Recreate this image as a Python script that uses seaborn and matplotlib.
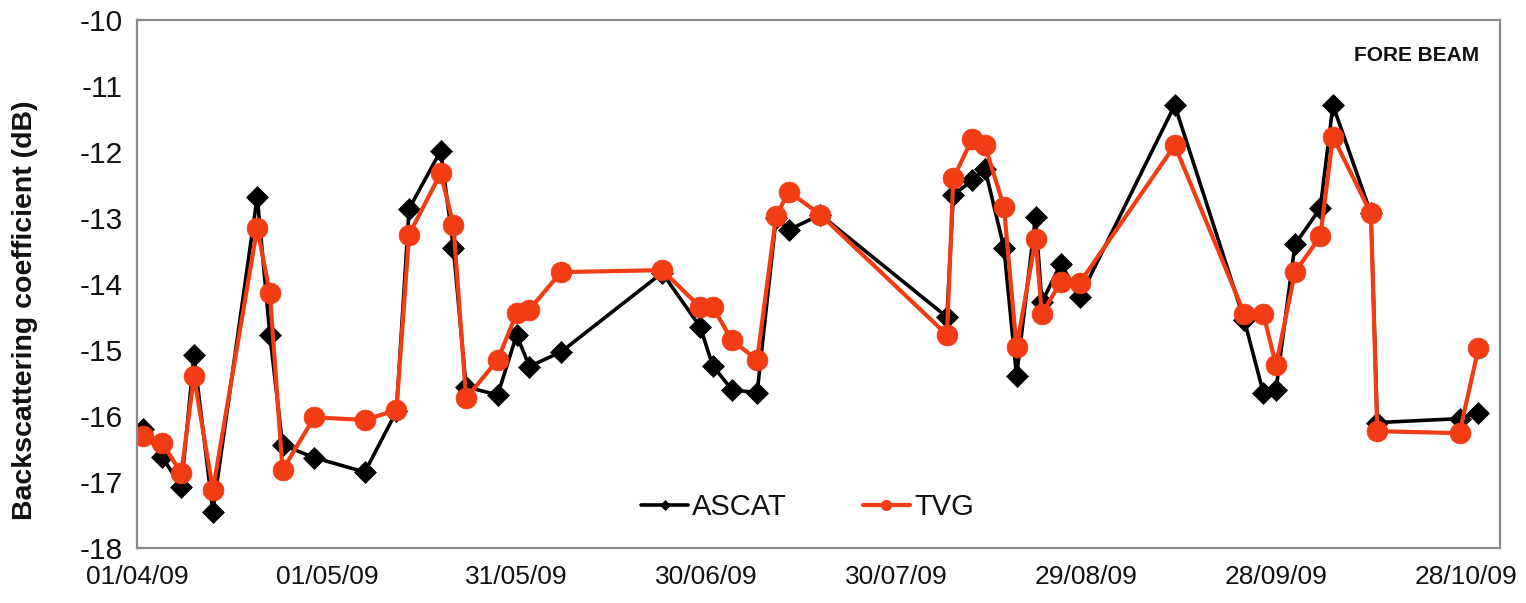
import numpy as np
import pandas as pd
import matplotlib
matplotlib.use("Agg")
import matplotlib.pyplot as plt
import matplotlib.dates as mdates
import seaborn as sns

# Acquisition dates (2009)
dates = [
    "2009-04-02", "2009-04-05", "2009-04-08", "2009-04-10", "2009-04-13",
    "2009-04-20", "2009-04-22", "2009-04-24", "2009-04-29", "2009-05-07",
    "2009-05-12", "2009-05-14", "2009-05-19", "2009-05-21", "2009-05-23",
    "2009-05-28", "2009-05-31", "2009-06-02", "2009-06-07", "2009-06-23",
    "2009-06-29", "2009-07-01", "2009-07-04", "2009-07-08", "2009-07-11",
    "2009-07-13", "2009-07-18", "2009-08-07", "2009-08-08", "2009-08-11",
    "2009-08-13", "2009-08-16", "2009-08-18", "2009-08-21", "2009-08-22",
    "2009-08-25", "2009-08-28", "2009-09-12", "2009-09-23", "2009-09-26",
    "2009-09-28", "2009-10-01", "2009-10-05", "2009-10-07", "2009-10-13",
    "2009-10-14", "2009-10-27", "2009-10-30",
]

# Fore-beam backscattering coefficient (dB)
ascat = [
    -16.20, -16.62, -17.08, -15.08, -17.45,
    -12.68, -14.77, -16.44, -16.63, -16.85,
    -15.93, -12.86, -11.98, -13.45, -15.56,
    -15.68, -14.77, -15.25, -15.03, -13.83,
    -14.65, -15.24, -15.60, -15.65, -13.00,
    -13.18, -12.95, -14.50, -12.65, -12.43,
    -12.25, -13.45, -15.40, -12.98, -14.28,
    -13.69, -14.20, -11.29, -14.55, -15.65,
    -15.60, -13.40, -12.85, -11.29, -12.93,
    -16.10, -16.04, -15.95,
]

tvg = [
    -16.30, -16.41, -16.87, -15.40, -17.12,
    -13.15, -14.14, -16.82, -16.02, -16.06,
    -15.91, -13.25, -12.32, -13.10, -15.73,
    -15.15, -14.44, -14.39, -13.82, -13.79,
    -14.35, -14.35, -14.85, -15.15, -12.97,
    -12.60, -12.95, -14.77, -12.40, -11.80,
    -11.90, -12.83, -14.96, -13.32, -14.45,
    -13.97, -13.98, -11.90, -14.45, -14.45,
    -15.23, -13.82, -13.28, -11.77, -12.93,
    -16.23, -16.26, -14.97,
]

tick_dates = ["2009-04-01", "2009-05-01", "2009-05-31", "2009-06-30",
              "2009-07-30", "2009-08-29", "2009-09-28", "2009-10-28"]
y_ticks = [-18, -17, -16, -15, -14, -13, -12, -11, -10]

sns.set_theme(style="white")
plt.rcParams["font.family"] = ["Liberation Sans", "DejaVu Sans"]

df = pd.DataFrame({"date": pd.to_datetime(dates), "ASCAT": ascat, "TVG": tvg})

fig = plt.figure(figsize=(15.26, 6.03), dpi=100)
ax = fig.add_axes([137 / 1526, 1 - 548 / 603, (1500 - 137) / 1526, 528 / 603])

black = "#000000"
orange = "#F23C14"
text_col = "#111111"

sns.lineplot(data=df, x="date", y="ASCAT", ax=ax, color=black, lw=2.6,
             marker="D", markersize=11, markeredgecolor=black,
             markeredgewidth=0.5, sort=False, estimator=None, label="ASCAT")
sns.lineplot(data=df, x="date", y="TVG", ax=ax, color=orange, lw=3.0,
             marker="o", markersize=15, markeredgecolor=orange,
             markeredgewidth=0.5, sort=False, estimator=None, label="TVG")

start = pd.Timestamp("2009-04-01")
ax.set_xlim(start, start + pd.Timedelta(days=215.4))
ax.set_ylim(-18, -10)
ax.set_xticks(pd.to_datetime(tick_dates))
ax.xaxis.set_major_formatter(mdates.DateFormatter("%d/%m/%y"))
ax.set_yticks(y_ticks)
ax.set_yticklabels([str(v) for v in y_ticks])

ax.set_xlabel("")
ax.set_ylabel("Backscattering coefficient (dB)", fontsize=20.5,
              fontweight="bold", color=text_col)
ax.yaxis.set_label_coords(-0.0726, 0.45)

for sp in ax.spines.values():
    sp.set_color("#8a8a8a")
    sp.set_linewidth(1.6)
ax.tick_params(axis="both", direction="in", length=7, width=1.2,
               color="#8a8a8a", labelcolor=text_col)
ax.tick_params(axis="x", pad=12, labelsize=19)
ax.tick_params(axis="y", pad=10, labelsize=21.5)

ax.text(0.985, 0.932, "FORE BEAM", transform=ax.transAxes, ha="right",
        va="center", fontsize=15, fontweight="bold", color=text_col)

ax.legend(loc="center", bbox_to_anchor=(0.492, 0.078), ncol=2,
          frameon=False, fontsize=21, handlelength=1.6, handletextpad=0.15,
          columnspacing=2.6, markerscale=0.5, labelcolor=text_col)

fig.savefig("out.png", dpi=100, facecolor="white")
